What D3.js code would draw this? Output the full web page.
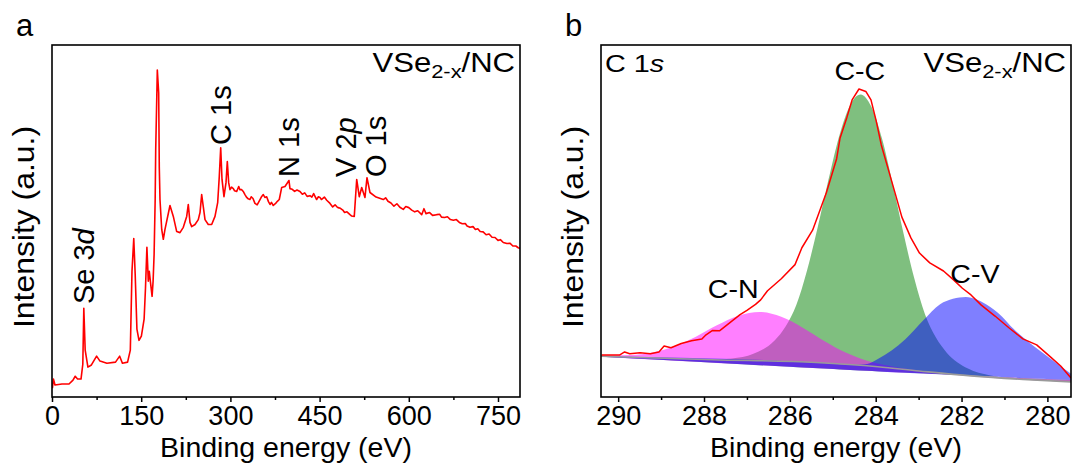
<!DOCTYPE html>
<html>
<head>
<meta charset="utf-8">
<script src="https://cdn.jsdelivr.net/npm/d3@7"></script>
<style>
  html, body { margin: 0; padding: 0; background: #fff; }
  svg { display: block; font-family: "Liberation Sans", Arial, sans-serif; }
</style>
</head>
<body>
<svg id="fig" width="1075" height="463"></svg>
<script>
// ---------- (a) XPS survey spectrum: [binding energy (eV), intensity (a.u.)] ----------
const surveySpectrum = [
  [0.7,2.5],[2.4,5.1],[5.0,3.4],[16.8,3.7],[28.6,3.7],[35.3,4.8],[39.0,5.9],[43.0,5.1],[48.8,5.1],
  [51.8,9.3],[53.5,25.2],[55.8,13.3],[60.4,8.5],[66.3,9.1],[75.0,11.6],[80.7,10.2],[92.3,9.6],
  [106.8,9.9],[113.8,11.6],[118.4,9.6],[127.1,9.9],[131.7,13.3],[134.5,35.7],[137.5,45.0],[139.9,34.8],
  [142.8,19.3],[146.3,16.1],[150.3,17.3],[154.9,22.1],[157.2,30.9],[159.6,42.5],[160.8,37.7],[161.9,32.9],
  [163.6,35.7],[166.0,32.0],[168.3,28.6],[170.0,32.9],[171.7,40.5],[173.5,56.1],[174.4,70.3],[176.1,84.4],
  [177.1,92.9],[179.4,86.4],[180.4,65.4],[181.6,56.1],[184.5,47.6],[187.2,44.8],[190.0,47.6],[198.4,54.4],
  [204.0,51.3],[209.7,47.0],[215.2,46.7],[220.8,48.2],[226.5,51.3],[229.2,54.7],[232.0,49.6],[234.9,48.4],
  [240.5,49.0],[246.0,50.4],[248.9,52.4],[251.7,57.5],[254.4,54.1],[257.3,50.4],[262.8,49.0],[268.5,49.0],
  [274.1,51.3],[278.6,55.2],[281.3,62.6],[283.7,70.8],[285.9,61.8],[289.2,56.9],[292.6,60.9],[294.8,66.9],
  [297.1,60.9],[299.3,58.9],[302.0,59.6],[304.9,59.2],[307.0,58.6],[310.6,58.4],[314.0,59.8],[316.0,58.9],
  [319.0,58.9],[322.0,58.3],[324.5,57.5],[327.0,56.8],[330.0,56.3],[332.9,56.1],[335.0,56.9],[338.0,56.4],
  [341.3,55.0],[345.0,54.6],[349.8,56.1],[352.0,56.8],[355.3,57.5],[358.0,56.7],[361.0,56.9],[364.0,55.5],
  [366.6,54.7],[369.0,55.3],[372.1,54.4],[376.0,55.0],[379.0,55.6],[382.2,56.1],[386.2,59.5],[391.8,59.8],
  [398.5,61.5],[400.2,59.2],[404.0,59.0],[408.0,58.4],[412.0,58.8],[417.0,58.4],[421.0,57.6],[425.0,58.0],
  [429.0,57.0],[433.8,57.2],[437.0,56.8],[440.0,57.8],[445.0,56.1],[448.0,56.9],[450.6,56.7],[453.0,56.1],
  [458.0,56.8],[462.0,55.9],[467.5,55.0],[472.0,54.0],[476.0,54.6],[478.7,54.1],[481.0,53.8],[485.0,53.6],
  [489.0,53.1],[492.0,52.4],[496.0,52.6],[501.1,51.8],[504.0,51.4],[508.3,51.3],[512.4,61.8],[516.7,56.9],
  [520.8,59.5],[526.3,56.7],[529.7,62.3],[534.7,58.1],[545.0,56.8],[557.1,56.1],[561.0,56.6],[565.0,55.6],
  [570.0,55.1],[575.0,54.2],[580.0,54.9],[585.0,53.9],[590.7,53.3],[595.0,54.1],[600.0,53.8],[605.0,53.1],
  [610.0,52.6],[615.0,52.9],[621.7,51.8],[625.5,53.5],[628.9,52.1],[635.0,52.4],[640.0,51.6],[646.9,51.8],
  [652.0,51.9],[655.0,51.1],[660.0,51.0],[665.0,51.2],[670.0,50.4],[675.0,50.2],[680.0,50.4],[685.0,49.6],
  [690.0,49.2],[695.0,49.3],[698.0,48.6],[702.9,48.2],[708.0,48.4],[712.0,47.6],[716.0,47.8],[720.0,47.0],
  [725.0,46.9],[730.0,46.1],[735.0,46.3],[740.0,45.4],[745.0,45.3],[750.0,44.5],[754.0,44.7],[758.9,43.9],
  [765.0,43.6],[770.0,43.7],[775.0,42.9],[780.0,42.9],[784.0,42.4],[787.0,42.2]
];
const surveyTicks = [0, 150, 300, 450, 600, 750];
const surveyMinorTicks = [75, 225, 375, 525, 675];
// peak annotations: label parts (text, italic), label centre energy (eV), intensity at label foot
const surveyPeakNames = [
  [["Se 3", false], ["d", true]],
  [["C 1s", false]],
  [["N 1s", false]],
  [["V 2", false], ["p", true]],
  [["O 1s", false]]
];
const surveyPeakEnergy = [53.1, 284.2, 398.5, 493.5, 544.8];
const surveyPeakLevel = [26.4, 71.6, 62.5, 62.5, 62.5];

// ---------- (b) C 1s high-resolution spectrum ----------
const c1sSpectrum = [
  [290.39,11.9],[289.97,11.9],[289.85,12.8],[289.73,12.3],[289.49,12.6],[289.25,12.3],[289.05,12.8],
  [288.93,14.5],[288.77,14.0],[288.53,15.2],[288.29,16.0],[288.05,16.5],[287.97,17.5],[287.80,18.9],
  [287.64,18.8],[287.44,20.7],[287.16,23.4],[287.00,24.6],[286.80,26.3],[286.68,27.6],[286.52,30.2],
  [286.20,33.6],[285.88,37.6],[285.72,42.4],[285.47,47.4],[285.15,58.0],[284.91,67.7],[284.83,73.6],
  [284.67,79.5],[284.55,84.4],[284.39,87.5],[284.23,86.8],[284.11,84.4],[283.99,78.5],[283.87,71.6],
  [283.71,64.8],[283.55,58.0],[283.39,51.1],[283.18,45.2],[282.98,40.9],[282.74,38.1],[282.42,35.8],
  [282.18,33.2],[281.98,30.9],[281.78,29.0],[281.54,26.1],[281.22,23.0],[280.89,19.6],[280.57,16.5],
  [280.25,14.8],[279.93,11.4],[279.69,8.8],[279.45,5.4]
];
// Shirley-type background and the base line under the fitted components
const c1sBackground = [[290.4,11.6],[287.81,10.6],[285.39,9.8],[283.95,8.6],[282.99,7.4],[281.78,6.0],[280.57,5.0],[279.45,4.3]];
const c1sBase = [[290.4,11.4],[284.0,7.3],[279.45,4.8]];
// fitted components: [energy (eV), height above background]
const compCC = [
  [290.4,0],[287.85,0],[287.35,0.5],[286.85,2],[286.35,6],[286.1,10],[285.85,16.2],[285.6,26.1],[285.35,38.5],
  [285.1,52.2],[284.85,64.8],[284.6,73.7],[284.35,77],[284.1,73.7],[283.85,64.8],[283.6,52.2],[283.35,38.5],
  [283.1,26.1],[282.85,16.2],[282.6,10],[282.35,6],[281.85,2],[281.35,0.5],[280.85,0],[279.45,0]
];
const compCN = [
  [290.4,0.2],[289.7,0.6],[289.2,1.5],[288.7,3.4],[288.2,6.3],[287.7,9.8],[287.2,12.7],[286.7,13.9],
  [286.2,12.7],[285.7,9.8],[285.2,6.3],[284.7,3.4],[284.2,1.5],[283.7,0.6],[283.2,0.2],[282.7,0],[279.45,0]
];
const compCV = [
  [290.4,0],[285.2,0],[284.6,0],[284.2,0.6],[283.95,2.2],[283.31,8.6],[282.89,14.5],[282.5,19.5],
  [282.2,21.4],[281.9,22.3],[281.41,20.5],[281.06,17.5],[280.79,14.2],[280.57,12.0],[280.01,7.0],[279.45,2.3]
];
const componentNames = ["C-C", "C-N", "C-V"];
const componentColors = ["#008000", "#ff00ff", "#0000ff"];
const componentLabelEnergy = [284.37, 287.32, 281.69];
const componentLabelLevel = [90.1, 28.1, 32.4];
const c1sTicks = [290, 288, 286, 284, 282, 280];
const c1sMinorTicks = [289, 287, 285, 283, 281];

// ---------- layout ----------
const svg = d3.select("#fig");
const frameA = { left: 52, right: 520, top: 45, bottom: 397 };
const frameB = { left: 601, right: 1071, top: 45, bottom: 397 };

const xA = d3.scaleLinear().domain([0, 787]).range([frameA.left, frameA.right]);
const yA = d3.scaleLinear().domain([0, 100]).range([frameA.bottom, frameA.top]);
const xB = d3.scaleLinear().domain([290.4, 279.45]).range([frameB.left, frameB.right]);
const yB = d3.scaleLinear().domain([0, 100]).range([frameB.bottom, frameB.top]);

const defs = svg.append("defs");
function clip(id, f) {
  defs.append("clipPath").attr("id", id).append("rect")
    .attr("x", f.left).attr("y", f.top).attr("width", f.right - f.left).attr("height", f.bottom - f.top);
}
clip("clipA", frameA);
clip("clipB", frameB);

function drawAxis(f, x, major, minor) {
  const gMaj = svg.append("g").attr("transform", `translate(0,${f.bottom})`)
    .call(d3.axisBottom(x).tickValues(major).tickSize(5).tickPadding(4).tickFormat(d3.format("d")));
  gMaj.select(".domain").remove();
  gMaj.selectAll("line").attr("stroke", "#000").attr("stroke-width", 1.5);
  gMaj.selectAll("text").attr("font-size", 27).attr("fill", "#000")
    .attr("font-family", "'Liberation Sans', Arial, sans-serif");
  const gMin = svg.append("g").attr("transform", `translate(0,${f.bottom})`)
    .call(d3.axisBottom(x).tickValues(minor).tickSize(3).tickFormat(""));
  gMin.select(".domain").remove();
  gMin.selectAll("line").attr("stroke", "#000").attr("stroke-width", 1.5);

  svg.append("text").attr("x", (f.left + f.right) / 2).attr("y", 456.5)
    .attr("text-anchor", "middle").attr("font-size", 28.5).attr("fill", "#000")
    .text("Binding energy (eV)");
  svg.append("g").attr("transform", `translate(${f.left - 18},${(f.top + f.bottom) / 2 + 6}) rotate(-90) scale(1.1,1)`)
    .append("text").attr("text-anchor", "middle").attr("font-size", 29).attr("fill", "#000")
    .text("Intensity (a.u.)");
}

function frame(f) {
  svg.append("rect").attr("x", f.left).attr("y", f.top)
    .attr("width", f.right - f.left).attr("height", f.bottom - f.top)
    .attr("fill", "none").attr("stroke", "#000").attr("stroke-width", 1.6);
}

// stretched, right-aligned sample name with subscript
function sampleName(xEnd, y) {
  const t = svg.append("g").attr("transform", `translate(${xEnd},${y}) scale(1.15,1)`)
    .append("text").attr("text-anchor", "end").attr("font-size", 27).attr("fill", "#000");
  t.append("tspan").text("VSe");
  t.append("tspan").attr("font-size", 19).attr("dy", 6).text("2-x");
  t.append("tspan").attr("dy", -6).text("/NC");
}

function panelLetter(x, y, s) {
  svg.append("text").attr("x", x).attr("y", y).attr("font-size", 31).attr("fill", "#000").text(s);
}

// ---------- panel (a) ----------
panelLetter(16, 36, "a");
svg.append("path").datum(surveySpectrum.slice().sort((a, b) => a[0] - b[0]))
  .attr("clip-path", "url(#clipA)")
  .attr("fill", "none").attr("stroke", "#ff0000").attr("stroke-width", 1.6)
  .attr("stroke-linejoin", "round")
  .attr("d", d3.line().x(d => xA(d[0])).y(d => yA(d[1])));

surveyPeakNames.forEach((parts, i) => {
  const t = svg.append("g")
    .attr("transform", `translate(${xA(surveyPeakEnergy[i])},${yA(surveyPeakLevel[i])}) rotate(-90)`)
    .append("text").attr("text-anchor", "start").attr("dy", "0.36em")
    .attr("font-size", 29).attr("fill", "#000");
  parts.forEach(p => t.append("tspan").attr("font-style", p[1] ? "italic" : "normal").text(p[0]));
});
sampleName(515, 72);
frame(frameA);
drawAxis(frameA, xA, surveyTicks, surveyMinorTicks);

// ---------- panel (b) ----------
panelLetter(565, 36, "b");
const sortB = arr => arr.slice().sort((a, b) => xB(a[0]) - xB(b[0]));
const bgSorted = sortB(c1sBackground);
const baseSorted = sortB(c1sBase);
const bgAt = d3.scaleLinear().domain(bgSorted.map(d => d[0])).range(bgSorted.map(d => d[1]));
const baseAt = d3.scaleLinear().domain(baseSorted.map(d => d[0])).range(baseSorted.map(d => d[1]));

const gB = svg.append("g").attr("clip-path", "url(#clipB)");
[compCC, compCN, compCV].forEach((comp, i) => {
  gB.append("path").datum(sortB(comp))
    .attr("fill", componentColors[i]).attr("fill-opacity", 0.5).attr("stroke", "none")
    .attr("d", d3.area().curve(d3.curveMonotoneX)
      .x(d => xB(d[0]))
      .y0(d => yB(baseAt(d[0])))
      .y1(d => yB(bgAt(d[0]) + d[1])));
});
gB.append("path").datum(bgSorted)
  .attr("fill", "none").attr("stroke", "#9a9a9a").attr("stroke-width", 1.6)
  .attr("d", d3.line().curve(d3.curveMonotoneX).x(d => xB(d[0])).y(d => yB(d[1])));
gB.append("path").datum(sortB(c1sSpectrum))
  .attr("fill", "none").attr("stroke", "#ff0000").attr("stroke-width", 1.5)
  .attr("stroke-linejoin", "round")
  .attr("d", d3.line().x(d => xB(d[0])).y(d => yB(d[1])));

componentNames.forEach((name, i) => {
  svg.append("g")
    .attr("transform", `translate(${xB(componentLabelEnergy[i])},${yB(componentLabelLevel[i])}) scale(1.1,1)`)
    .append("text").attr("text-anchor", "middle").attr("font-size", 26).attr("fill", "#000").text(name);
});

const core = svg.append("g").attr("transform", `translate(${frameB.left + 4},72) scale(1.2,1)`)
  .append("text").attr("font-size", 24).attr("fill", "#000");
core.append("tspan").text("C 1");
core.append("tspan").attr("font-style", "italic").text("s");
sampleName(1066, 72);
frame(frameB);
drawAxis(frameB, xB, c1sTicks, c1sMinorTicks);
</script>
</body>
</html>
